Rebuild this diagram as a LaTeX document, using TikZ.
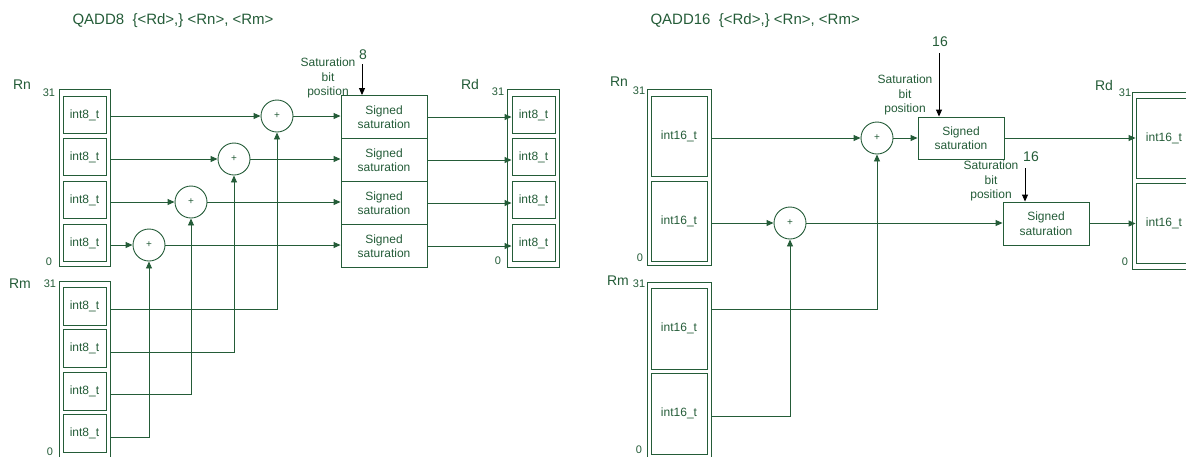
\documentclass[tikz,border=0pt]{standalone}
\usepackage{fontspec}
\setmainfont{Liberation Sans}
\usepackage{tikz}
\usetikzlibrary{arrows.meta}
\definecolor{armgreen}{RGB}{36,92,56}

\begin{document}
\begin{tikzpicture}[
        x=1pt,y=-1pt,
        every node/.append style={text=armgreen},
        >={Triangle[length=7pt,width=6pt]}
    ]
    \tikzstyle{outer}=[draw=armgreen,line width=0.9pt,inner sep=0pt];
    \tikzstyle{lane}=[draw=armgreen,line width=0.9pt,inner sep=0pt,font=\fontsize{12}{14}\selectfont];
    \tikzstyle{adder}=[draw=armgreen,line width=0.9pt,shape=circle,minimum size=32,inner sep=0pt,font=\fontsize{10}{12}\selectfont];
    \tikzstyle{sat}=[draw=armgreen,line width=0.9pt,inner sep=0pt,minimum width=86,align=center,font=\fontsize{12}{14.5}\selectfont];
    \tikzstyle{wire}=[draw=armgreen,line width=0.9pt,->];
    \tikzstyle{bitpos}=[align=center,font=\fontsize{12}{14.5}\selectfont];
    \tikzstyle{reglbl}=[font=\fontsize{14}{16}\selectfont];
    \tikzstyle{bitlbl}=[font=\fontsize{11}{13}\selectfont];
    \clip (0,0) rectangle (1186,456);
    % QADD8
    \begin{scope}
        \node[anchor=west,font=\fontsize{15}{18}\selectfont] (t8) at (69,21) {QADD8\ \ \{<Rd>,\} <Rn>, <Rm>};
        % Rn
        \node[reglbl] (rnl8) at (22,85) {Rn};
        \node[bitlbl] at (49,93) {31};
        \node[bitlbl] at (49,262) {0};
        \node[outer,minimum width=51,minimum height=177] (rn8) at (84.5,177.5) {};
        \node[lane,minimum width=43,minimum height=37] (n1) at (84.5,115) {int8\_t};
        \node[lane,minimum width=43,minimum height=37] (n2) at (84.5,157) {int8\_t};
        \node[lane,minimum width=43,minimum height=37] (n3) at (84.5,200) {int8\_t};
        \node[lane,minimum width=43,minimum height=37] (n4) at (84.5,243) {int8\_t};
        % Rm
        \node[reglbl] (rml8) at (20,284) {Rm};
        \node[bitlbl] at (50,284) {31};
        \node[bitlbl] at (50,452) {0};
        \node[outer,minimum width=51,minimum height=178] (rm8) at (84.5,370) {};
        \node[lane,minimum width=43,minimum height=38] (m1) at (84.5,306) {int8\_t};
        \node[lane,minimum width=43,minimum height=38] (m2) at (84.5,348) {int8\_t};
        \node[lane,minimum width=43,minimum height=38] (m3) at (84.5,391) {int8\_t};
        \node[lane,minimum width=43,minimum height=38] (m4) at (84.5,433) {int8\_t};
        \coordinate (p1) at (110,309);
        \coordinate (p2) at (110,352);
        \coordinate (p3) at (110,394);
        \coordinate (p4) at (110,437);
        % adders
        \node[adder] (a1) at (277,116) {+};
        \node[adder] (a2) at (234,159) {+};
        \node[adder] (a3) at (191,202) {+};
        \node[adder] (a4) at (149,245) {+};
        % saturation
        \node[sat,minimum height=43] (s1) at (384,117) {Signed\\saturation};
        \node[sat,minimum height=43] (s2) at (384,160) {Signed\\saturation};
        \node[sat,minimum height=43] (s3) at (384,203) {Signed\\saturation};
        \node[sat,minimum height=43] (s4) at (384,246) {Signed\\saturation};
        \node[bitpos] (bp8) at (328,78) {Saturation\\bit\\position};
        \node[font=\fontsize{14}{16}\selectfont] (eight) at (363,55) {8};
        \coordinate (tip8) at (362,64);
        \draw[->,line width=0.9pt] (tip8) -- (tip8 |- s1.north);
        % Rd
        \node[reglbl] (rdl8) at (470,84) {Rd};
        \node[bitlbl] at (498,92) {31};
        \node[bitlbl] at (498,261) {0};
        \node[outer,minimum width=52,minimum height=178] (rd8) at (533,178) {};
        \node[lane,minimum width=43,minimum height=37] (d1) at (533.5,115) {int8\_t};
        \node[lane,minimum width=43,minimum height=37] (d2) at (533.5,157) {int8\_t};
        \node[lane,minimum width=43,minimum height=37] (d3) at (533.5,200) {int8\_t};
        \node[lane,minimum width=43,minimum height=37] (d4) at (533.5,243) {int8\_t};
        % wires
        \draw[wire] (rn8.east |- a1) -- (a1);
        \draw[wire] (rn8.east |- a2) -- (a2);
        \draw[wire] (rn8.east |- a3) -- (a3);
        \draw[wire] (rn8.east |- a4) -- (a4);
        \draw[wire] (p1) -| (a1);
        \draw[wire] (p2) -| (a2);
        \draw[wire] (p3) -| (a3);
        \draw[wire] (p4) -| (a4);
        \draw[wire] (a1) -- (a1 -| s1.west);
        \draw[wire] (a2) -- (a2 -| s2.west);
        \draw[wire] (a3) -- (a3 -| s3.west);
        \draw[wire] (a4) -- (a4 -| s4.west);
        \draw[wire] (s1.east) -- (s1.east -| d1.west);
        \draw[wire] (s2.east) -- (s2.east -| d2.west);
        \draw[wire] (s3.east) -- (s3.east -| d3.west);
        \draw[wire] (s4.east) -- (s4.east -| d4.west);
    \end{scope}
    % QADD16
    \begin{scope}
        \node[anchor=west,font=\fontsize{15}{18}\selectfont] (t16) at (647,21) {QADD16\ \ \{<Rd>,\} <Rn>, <Rm>};
        % Rn
        \node[reglbl] (rnl16) at (619,82) {Rn};
        \node[bitlbl] at (639,91) {31};
        \node[bitlbl] at (640,258) {0};
        \node[outer,minimum width=64,minimum height=176] (rn16) at (679,177) {};
        \node[lane,minimum width=56,minimum height=80] (h1) at (679,136) {int16\_t};
        \node[lane,minimum width=56,minimum height=80] (h2) at (679,221) {int16\_t};
        % Rm
        \node[reglbl] (rml16) at (618,281) {Rm};
        \node[bitlbl] at (639,284) {31};
        \node[bitlbl] at (639,450) {0};
        \node[outer,minimum width=64,minimum height=178] (rm16) at (679,371) {};
        \node[lane,minimum width=56,minimum height=81] (k1) at (679,328.5) {int16\_t};
        \node[lane,minimum width=56,minimum height=81] (k2) at (679,413.5) {int16\_t};
        \coordinate (q1) at (711,309);
        \coordinate (q2) at (711,416);
        % adders
        \node[adder] (ad1) at (877,138) {+};
        \node[adder] (ad2) at (790,223) {+};
        % saturation
        \node[sat,minimum height=42] (ss1) at (961,138) {Signed\\saturation};
        \node[sat,minimum height=43] (ss2) at (1046,223.5) {Signed\\saturation};
        \node[bitpos] (bpa) at (905,95) {Saturation\\bit\\position};
        \node[bitpos] (bpb) at (991,181) {Saturation\\bit\\position};
        \node[font=\fontsize{14}{16}\selectfont] (sixa) at (940,42) {16};
        \node[font=\fontsize{14}{16}\selectfont] (sixb) at (1031,157) {16};
        \coordinate (tipa) at (939,53);
        \coordinate (tipb) at (1025,168);
        \draw[->,line width=0.9pt] (tipa) -- (tipa |- ss1.north);
        \draw[->,line width=0.9pt] (tipb) -- (tipb |- ss2.north);
        % Rd
        \node[reglbl] (rdl16) at (1104,85) {Rd};
        \node[bitlbl] at (1125,93) {31};
        \node[bitlbl] at (1125,262) {0};
        \node[outer,minimum width=64,minimum height=177] (rd16) at (1164,180.5) {};
        \node[lane,minimum width=56,minimum height=80] (e1) at (1164,138.5) {int16\_t};
        \node[lane,minimum width=56,minimum height=80] (e2) at (1164,223.5) {int16\_t};
        % wires
        \draw[wire] (rn16.east |- ad1) -- (ad1);
        \draw[wire] (rn16.east |- ad2) -- (ad2);
        \draw[wire] (q1) -| (ad1);
        \draw[wire] (q2) -| (ad2);
        \draw[wire] (ad1) -- (ad1 -| ss1.west);
        \draw[wire] (ad2) -- (ad2 -| ss2.west);
        \draw[wire] (ss1.east) -- (ss1.east -| e1.west);
        \draw[wire] (ss2.east) -- (ss2.east -| e2.west);
    \end{scope}
\end{tikzpicture}
\end{document}
